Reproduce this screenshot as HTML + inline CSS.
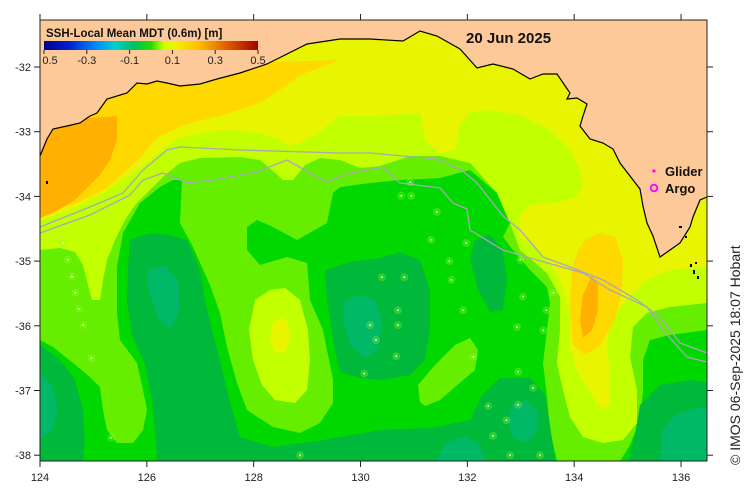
<!DOCTYPE html>
<html><head><meta charset="utf-8"><style>
html,body{margin:0;padding:0;background:#fff;}
svg{display:block;font-family:"Liberation Sans",sans-serif;}
</style></head><body>
<svg id="chart" width="750" height="496" viewBox="0 0 750 496" xmlns="http://www.w3.org/2000/svg">
<defs>
<clipPath id="plotclip"><rect x="40" y="20" width="667" height="441"/></clipPath>
<linearGradient id="cbgrad" x1="0" x2="1" y1="0" y2="0">
<stop offset="0" stop-color="#00008f"/><stop offset="0.12" stop-color="#0020d0"/><stop offset="0.25" stop-color="#0090ff"/><stop offset="0.33" stop-color="#00d0d0"/><stop offset="0.42" stop-color="#00c060"/><stop offset="0.5" stop-color="#22dd00"/><stop offset="0.56" stop-color="#ccff00"/><stop offset="0.62" stop-color="#f0f000"/><stop offset="0.72" stop-color="#ffc000"/><stop offset="0.85" stop-color="#e06000"/><stop offset="1" stop-color="#a00000"/>
</linearGradient>
</defs>
<g clip-path="url(#plotclip)">
<rect x="40" y="20" width="667" height="441" fill="#00d800"/>
<polygon fill="#66ee00" points="40,100 707,100 707,330 670,335 650,340 643,360 643,390 640,420 630,445 620,461 557,461 550,430 547,397 543,363 547,330 550,303 547,287 530,270 513,250 503,237 510,223 497,193 470,170 440,178 400,180 370,183 340,187 333,193 327,223 297,240 273,227 257,220 247,227 247,250 260,265 287,257 307,263 310,300 323,330 333,380 333,403 320,423 300,433 273,427 247,410 237,383 227,347 220,313 210,285 193,247 180,223 182,180 173,180 160,187 140,203 123,233 117,267 117,313 120,340 137,363 143,390 147,410 143,430 133,443 117,443 107,430 103,410 100,387 90,377 73,363 53,347 40,340"/>
<polygon fill="#00b83a" points="40,345 60,360 75,380 83,410 85,440 83,461 40,461"/>
<polygon fill="#00b83a" points="128,265 130,240 150,233 170,235 187,240 200,270 205,300 212,330 220,360 228,395 240,437 273,447 323,440 380,430 430,428 470,420 482,395 500,378 530,378 545,395 550,425 555,461 157,461 155,430 152,400 145,365 132,335 127,300"/>
<polygon fill="#00b83a" points="325,270 350,262 380,258 400,252 420,260 430,290 430,330 425,360 410,375 380,380 360,378 340,372 335,350 327,300"/>
<polygon fill="#00b83a" points="475,240 490,235 503,250 507,280 503,310 490,312 478,290 470,260"/>
<polygon fill="#00b83a" points="640,405 660,385 690,380 707,382 707,461 628,461 635,435"/>
<polygon fill="#00b866" points="147,270 165,265 178,280 180,310 170,330 158,318 148,290"/>
<polygon fill="#00b866" points="40,372 52,385 58,410 52,430 40,440"/>
<polygon fill="#00b866" points="345,300 360,295 375,300 382,320 378,350 365,358 350,345 343,320"/>
<polygon fill="#00b866" points="512,405 525,400 537,410 538,430 528,443 513,438 508,420"/>
<polygon fill="#00b866" points="437,461 445,443 465,437 480,445 485,461"/>
<polygon fill="#00b866" points="660,461 662,430 675,415 695,408 707,408 707,461"/>
<polygon fill="#66ee00" points="420,402 418,385 435,365 455,345 470,338 478,350 475,370 455,387 440,400 425,406"/>
<polygon fill="#c2ff00" points="40,16 707,16 707,303 670,307 647,313 633,327 630,357 637,390 637,423 623,440 603,443 583,437 570,417 563,390 557,363 560,330 560,297 547,273 520,250 510,223 497,193 470,163 440,156 410,156 380,166 360,168 340,160 320,158 305,165 293,180 283,180 272,170 260,160 240,157 200,158 180,163 165,175 150,190 135,205 125,220 115,240 107,260 103,280 100,300 92,300 88,285 83,265 75,252 60,248 40,250"/>
<polygon fill="#c2ff00" points="255,300 270,290 285,288 300,300 308,330 310,360 307,390 295,403 275,400 262,385 253,360 249,330"/>
<polygon fill="#e8f400" points="272,325 280,317 288,322 290,340 285,353 275,352 270,340"/>
<polygon fill="#e8f400" points="40,16 707,16 707,267 670,270 647,280 627,300 613,317 607,343 610,377 610,403 603,410 590,393 577,370 570,347 570,313 563,287 550,263 535,245 520,238 520,215 530,205 555,203 575,198 583,185 580,170 570,150 550,130 520,115 490,110 470,112 460,125 455,150 440,153 425,140 420,113 380,116 340,116 315,135 300,143 290,146 280,140 260,133 230,130 200,133 175,140 165,148 150,160 130,175 100,195 70,210 40,220"/>
<polygon fill="#ffd800" points="40,16 240,16 250,60 275,62 340,60 300,75 280,90 260,103 223,115 183,125 157,138 140,158 107,188 73,205 40,213"/>
<polygon fill="#ffd800" points="585,240 600,233 615,237 623,260 622,290 615,320 600,345 585,355 573,345 570,310 572,270 578,250"/>
<polygon fill="#ffb000" points="592,275 598,285 598,310 592,330 583,338 580,320 583,295"/>
<polygon fill="#ffb000" points="40,130 60,123 90,118 117,116 117,140 110,160 100,175 75,200 55,212 40,218"/>
<polyline fill="none" stroke="#a8a8b8" stroke-width="1.3" points="40,227 90,207 123,193 143,170 167,150 180,147 240,150 340,153 370,153 437,159 460,169 477,183 503,216 520,230 543,257 570,267 603,280 637,300 660,317 680,343 707,353"/>
<polyline fill="none" stroke="#a8a8b8" stroke-width="1.3" points="40,233 90,215 130,195 143,180 163,173 187,183 213,180 257,172 287,160 310,173 327,182 350,173 383,167 400,183 440,188 453,203 467,209 470,230 503,250 537,260 583,273 610,290 647,307 663,330 687,357 707,362"/>
<g id="obs-layer"></g>
<polygon fill="#fdc998" points="40,20 40,156 47,139 53,129 67,126 80,123 90,116 97,113 107,99 127,93 137,83 147,84 157,81 167,83 180,86 200,84 217,79 240,73 267,64 287,54 307,44 340,39 370,39 403,41 420,31 437,36 460,49 477,68 493,64 513,69 530,79 543,74 557,74 570,93 567,99 577,98 587,104 583,116 580,126 590,139 603,143 613,149 620,163 630,176 640,189 643,206 647,223 653,236 660,257 670,250 680,243 690,227 693,217 700,200 707,197 707,20"/>
<polyline fill="none" stroke="#000" stroke-width="1.2" points="40,156 47,139 53,129 67,126 80,123 90,116 97,113 107,99 127,93 137,83 147,84 157,81 167,83 180,86 200,84 217,79 240,73 267,64 287,54 307,44 340,39 370,39 403,41 420,31 437,36 460,49 477,68 493,64 513,69 530,79 543,74 557,74 570,93 567,99 577,98 587,104 583,116 580,126 590,139 603,143 613,149 620,163 630,176 640,189 643,206 647,223 653,236 660,257 670,250 680,243 690,227 693,217 700,200 707,197"/>
<g fill="#000">
<rect x="46" y="181" width="2" height="3"/><rect x="690" y="264" width="2" height="3"/><rect x="693" y="270" width="2" height="4"/><rect x="695" y="262" width="2" height="2"/><rect x="697" y="276" width="2" height="3"/><rect x="679" y="226" width="3" height="2"/><rect x="685" y="236" width="2" height="2"/>
</g>
</g>
<rect x="40" y="20" width="667" height="441" fill="none" stroke="#222" stroke-width="1"/>
<g id="axes"></g>
<g>
<text x="46" y="37" font-size="11.5" font-weight="bold" fill="#111">SSH-Local Mean MDT (0.6m) [m]</text>
<rect x="44" y="41" width="214" height="9" fill="url(#cbgrad)"/>
<g id="cbticks"></g>
</g>
<text x="466" y="43" font-size="15" font-weight="bold" fill="#111">20 Jun 2025</text>
<g>
<circle cx="654" cy="171" r="1.6" fill="#ff00ff"/>
<text x="665" y="176" font-size="13" font-weight="bold" fill="#111">Glider</text>
<circle cx="654" cy="188" r="3.3" fill="none" stroke="#ff00ff" stroke-width="1.8"/>
<text x="665" y="193" font-size="13" font-weight="bold" fill="#111">Argo</text>
</g>
<text transform="translate(740,465) rotate(-90)" font-size="14" fill="#222">© IMOS 06-Sep-2025 18:07 Hobart</text>
</svg>
<script>
const lonTicks = [124, 126, 128, 130, 132, 134, 136];
const latTicks = [-32, -33, -34, -35, -36, -37, -38];
const cbTickLabels = ["0.5", "-0.3", "-0.1", "0.1", "0.3", "0.5"];
const cbTickValues = [-0.5, -0.3, -0.1, 0.1, 0.3, 0.5];
const obsLon = [124.43,124.52,124.60,124.66,124.73,124.81,124.96,125.33,130.40,130.82,130.18,130.29,130.70,130.70,130.67,130.07,131.66,131.70,131.92,132.11,132.99,133.04,133.61,133.48,133.42,132.73,133.23,132.95,132.80,133.36,132.39,132.48,130.76,130.95,131.43,130.93,131.32,131.98,128.87,132.95,132.93];
const obsLat = [-34.72,-34.98,-35.24,-35.49,-35.74,-35.99,-36.50,-37.73,-35.25,-35.25,-35.99,-36.22,-35.76,-35.99,-36.47,-36.74,-35.00,-35.29,-35.76,-36.48,-34.98,-35.55,-35.49,-35.76,-36.07,-37.46,-36.96,-37.22,-38.00,-38.00,-37.24,-37.70,-33.99,-33.99,-34.24,-33.78,-34.67,-34.72,-38.00,-36.71,-36.02];
const NS = "http://www.w3.org/2000/svg";
function xOf(lon){ return 40 + (lon - 124) * 53.42; }
function yOf(lat){ return 67 + (-32 - lat) * 64.7; }
function cbX(v){ return 44 + (v + 0.5) / 1.0 * 214; }
function mk(tag, attrs){ const e = document.createElementNS(NS, tag); for (const k in attrs) e.setAttribute(k, attrs[k]); return e; }
const axes = document.getElementById('axes');
lonTicks.forEach(function(lon){
  const x = xOf(lon);
  const t1 = mk('line', {x1:x, x2:x, y1:461, y2:467, stroke:'#222'});
  
  
  axes.appendChild(t1);
  const t2 = mk('line', {x1:x, x2:x, y1:14, y2:20, stroke:'#222'});
  
  
  axes.appendChild(t2);
  const lb = mk('text', {x:x, y:481, 'font-size':11, 'text-anchor':'middle', fill:'#222'});
  
  
  lb.textContent = String(lon);
  axes.appendChild(lb);
});
latTicks.forEach(function(lat){
  const y = yOf(lat);
  const t1 = mk('line', {x1:34, x2:40, y1:y, y2:y, stroke:'#222'});
  
  
  axes.appendChild(t1);
  const t2 = mk('line', {x1:707, x2:713, y1:y, y2:y, stroke:'#222'});
  
  
  axes.appendChild(t2);
  const lb = mk('text', {x:31, y:y+4, 'font-size':11, 'text-anchor':'end', fill:'#222'});
  
  
  lb.textContent = String(lat);
  axes.appendChild(lb);
});
const cbt = document.getElementById('cbticks');
cbTickValues.forEach(function(v, i){
  const x = cbX(v);
  const tk = mk('line', {x1:x, x2:x, y1:50, y2:54, stroke:'#222'});
  
  
  cbt.appendChild(tk);
  const lb = mk('text', {x:(i===0? x+6 : x), y:64, 'font-size':11, 'text-anchor':'middle', fill:'#222'});
  
  
  lb.textContent = cbTickLabels[i];
  cbt.appendChild(lb);
});
const obs = document.getElementById('obs-layer');
obsLon.forEach(function(lon, i){
  const cx = xOf(lon), cy = yOf(obsLat[i]);
  const halo = mk('circle', {cx:cx, cy:cy, r:4, fill:'rgba(150,255,40,0.3)'});
  
  
  obs.appendChild(halo);
  const dot = mk('circle', {cx:cx, cy:cy, r:0.9, fill:'#ffffff'});
  
  
  obs.appendChild(dot);
});
</script>
</body></html>
